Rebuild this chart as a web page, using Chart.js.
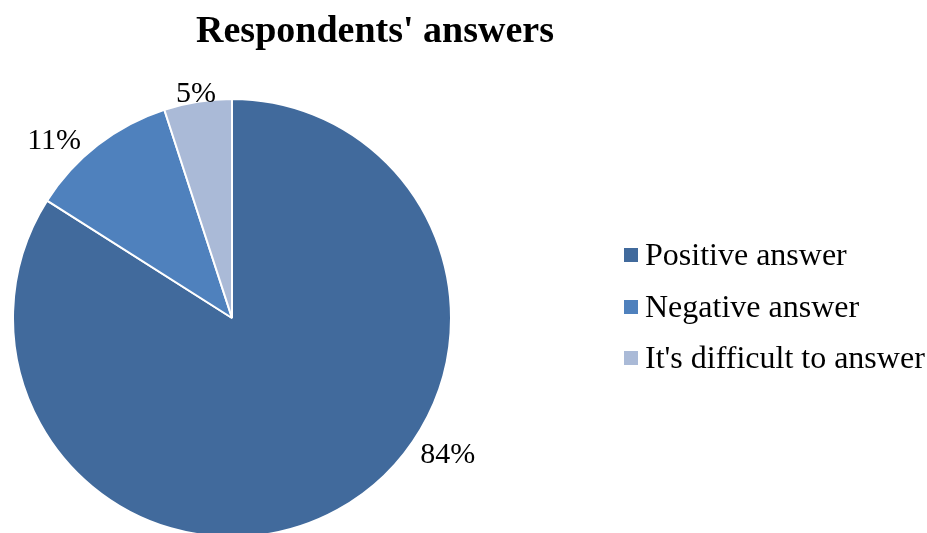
<!DOCTYPE html>
<html>
<head>
<meta charset="utf-8">
<script src="https://cdn.jsdelivr.net/npm/chart.js@4/dist/chart.umd.min.js"></script>
<style>
  html, body { margin: 0; padding: 0; background: #fff; overflow: hidden; }
</style>
</head>
<body>
<canvas id="myChart" width="927" height="540"></canvas>
<script>
var labels = ["Positive answer", "Negative answer", "It's difficult to answer"];
var values = [84, 11, 5];
var sliceColors = ["#416A9C", "#4F81BD", "#AABAD7"];
var chartTitle = "Respondents' answers";

// where each % label sits: fraction along its slice, gap outside the rim
var labelFrac = [0.403, 0.326, 0.5];
var labelGap = [35, 34, 11];

var serif = "'Liberation Serif', 'Times New Roman', serif";

var extras = {
    id: "extras",
    afterDatasetsDraw: function (chart) {
        var ctx = chart.ctx;
        var meta = chart.getDatasetMeta(0);
        ctx.save();
        ctx.fillStyle = "#000";
        ctx.textAlign = "center";
        ctx.textBaseline = "alphabetic";
        ctx.font = "30px " + serif;
        meta.data.forEach(function (arc, i) {
            var a = arc.startAngle + labelFrac[i] * (arc.endAngle - arc.startAngle);
            var r = arc.outerRadius + labelGap[i];
            ctx.fillText(values[i] + "%", arc.x + Math.cos(a) * r, arc.y + Math.sin(a) * r + 11);
        });

        // title
        ctx.font = "bold 38px " + serif;
        ctx.fillText(chartTitle, 375, 42);

        // legend
        ctx.textAlign = "left";
        ctx.font = "32px " + serif;
        var rows = [255, 307, 358];
        labels.forEach(function (lab, i) {
            ctx.fillStyle = sliceColors[i];
            ctx.fillRect(624, rows[i] - 7, 14, 14);
            ctx.fillStyle = "#000";
            ctx.fillText(lab, 645, rows[i] + 10);
        });
        ctx.restore();
    }
};

new Chart("myChart", {
    type: "pie",
    data: {
        labels: labels,
        datasets: [{
            data: values,
            backgroundColor: sliceColors,
            borderColor: "#fff",
            borderWidth: 2,
            radius: 219
        }]
    },
    options: {
        responsive: false,
        animation: false,
        layout: { padding: { left: 0, right: 463, top: 98, bottom: 2 } },
        plugins: {
            legend: { display: false },
            title: { display: false },
            tooltip: { enabled: false }
        }
    },
    plugins: [extras]
});
</script>
</body>
</html>
